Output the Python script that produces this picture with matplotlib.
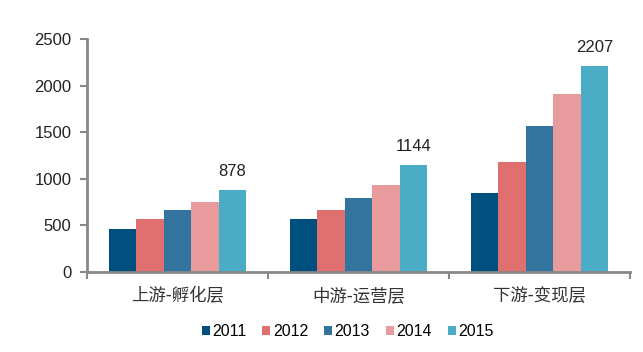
import matplotlib.pyplot as plt
import numpy as np

plt.rcParams['font.family'] = ['Liberation Sans', 'Noto Sans CJK SC', 'DejaVu Sans']

categories = ["上游-孵化层", "中游-运营层", "下游-变现层"]
years = ["2011", "2012", "2013", "2014", "2015"]
v2011 = [460, 575, 850]
v2012 = [570, 670, 1180]
v2013 = [665, 790, 1570]
v2014 = [755, 930, 1910]
v2015 = [878, 1144, 2207]
series = [v2011, v2012, v2013, v2014, v2015]
colors = ["#00507F", "#E07070", "#33749E", "#E89A9C", "#4BACC6"]

fig = plt.figure(figsize=(6.43, 3.52), dpi=100)
ax = fig.add_axes([0.135, 0.227, 0.845, 0.662])

x = np.arange(len(categories))
w = 0.152
for i, (vals, c) in enumerate(zip(series, colors)):
    ax.bar(x + (i - 2) * w, vals, w, color=c, label=years[i], linewidth=0)

# value labels on the 2015 bars
for xi, v in zip(x, v2015):
    ax.annotate(str(v), (xi + 2 * w, v), xytext=(0, 8), textcoords="offset points",
                ha="center", va="bottom", fontsize=12, color="#222222")

ax.set_xlim(-0.5, 2.5)
ax.set_ylim(0, 2500)
ax.set_yticks(range(0, 2501, 500))
ax.set_xticks([-0.5, 0.5, 1.5, 2.5])
ax.set_xticklabels([])
ax.set_xticks(x, minor=True)
ax.set_xticklabels(categories, minor=True, fontsize=12.5, color="#333333",
                   family=['Noto Sans CJK SC', 'DejaVu Sans'])
ax.tick_params(axis="x", which="minor", length=0, pad=11)
ax.tick_params(axis="x", which="major", length=5, width=1.5, color="#888888", direction="out")
ax.tick_params(axis="y", length=5, width=1.5, color="#888888", labelsize=12,
               labelcolor="#222222", pad=6)

for s in ["top", "right"]:
    ax.spines[s].set_visible(False)
for s in ["left", "bottom"]:
    ax.spines[s].set_color("#888888")
    ax.spines[s].set_linewidth(2)

ax.legend(loc="upper center", bbox_to_anchor=(0.48, -0.16), ncol=5, frameon=False,
          fontsize=11.5, handlelength=0.5, handleheight=0.5, handletextpad=0.15,
          columnspacing=1.0)

fig.savefig("out.png", dpi=100)
